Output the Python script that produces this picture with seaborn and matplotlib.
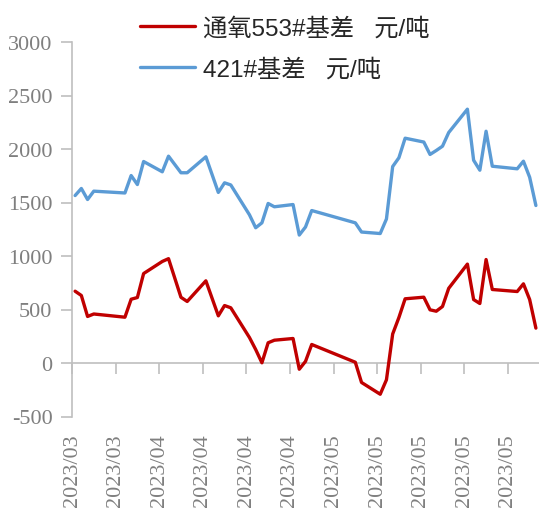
import matplotlib
matplotlib.use("Agg")
import matplotlib.pyplot as plt
import numpy as np
import pandas as pd
import seaborn as sns

# ---- data ----
days = [0, 1, 2, 3, 8, 9, 10, 11, 14, 15, 17, 18, 21, 23, 24, 25, 28, 29, 30,
        31, 32, 35, 36, 37, 38, 45, 46, 49, 50, 51, 52, 53, 56, 57, 58, 59, 60,
        63, 64, 65, 66, 67, 71, 72, 73, 74]
tong553 = [671, 631, 435, 458, 428, 596, 612, 836, 949, 975, 614, 575, 768,
           441, 537, 516, 238, 126, 2, 189, 213, 229, -58, 15, 173, 7, -182,
           -292, -157, 271, 425, 600, 615, 497, 484, 528, 698, 924, 593, 556,
           967, 687, 668, 740, 593, 326]
b421 = [1565, 1631, 1528, 1606, 1589, 1752, 1668, 1883, 1787, 1933, 1778,
        1778, 1927, 1594, 1684, 1664, 1385, 1264, 1310, 1491, 1460, 1481,
        1196, 1271, 1425, 1310, 1224, 1210, 1346, 1836, 1918, 2101, 2065,
        1949, 1986, 2026, 2154, 2372, 1895, 1802, 2166, 1839, 1815, 1886,
        1736, 1472]
series_names = ["通氧553#基差   元/吨", "421#基差   元/吨"]
tick_pos = [-0.5 + 7 * k for k in range(11)]
tick_labels = ["2023/03", "2023/03", "2023/04", "2023/04", "2023/04", "2023/04",
               "2023/05", "2023/05", "2023/05", "2023/05", "2023/05"]
y_ticks = [-500, 0, 500, 1000, 1500, 2000, 2500, 3000]

RED = "#C00000"
BLUE = "#5B9BD5"
GRAY_LINE = "#BFBFBF"
GRAY_TEXT = "#7F7F7F"

sns.set_theme(style="white")
plt.rcParams["font.family"] = ["Liberation Sans", "Noto Sans CJK SC", "DejaVu Sans"]

df = pd.DataFrame({"day": days, series_names[0]: tong553, series_names[1]: b421})
long = df.melt(id_vars="day", var_name="series", value_name="value")

W, H = 539, 510
fig = plt.figure(figsize=(W / 100, H / 100), dpi=100)
ax = fig.add_axes([72 / W, (H - 417.5) / H, 467 / W, (417.5 - 43) / H])

sns.lineplot(data=long, x="day", y="value", hue="series",
             hue_order=series_names, palette=[RED, BLUE],
             linewidth=2.4, ax=ax, legend=True)

handles, labels = ax.get_legend_handles_labels()
ax.get_legend().remove()
fig.legend(handles, labels, loc="upper left",
           bbox_to_anchor=(140 / W, 1 - 18 / H), frameon=False,
           fontsize=17.5, handlelength=2.25, handletextpad=0.35,
           labelspacing=0.75, borderpad=0, borderaxespad=0)

ax.set_xlim(-0.5, 74.5)
ax.set_ylim(-500, 3000)
ax.set_xlabel("")
ax.set_ylabel("")

for s in ["top", "right", "bottom"]:
    ax.spines[s].set_visible(False)
ax.spines["left"].set_color(GRAY_LINE)
ax.spines["left"].set_linewidth(1.2)

ax.set_yticks(y_ticks)
ax.set_yticklabels([str(v) for v in y_ticks], fontfamily="Liberation Serif")
ax.tick_params(axis="y", left=True, direction="out", length=8, width=1.2,
               color=GRAY_LINE, labelcolor=GRAY_TEXT, labelsize=16, pad=6)

ax.set_xticks(tick_pos)
ax.set_xticklabels(tick_labels, rotation=90, fontfamily="Liberation Serif",
                   va="top", ha="center")
ax.tick_params(axis="x", bottom=False, length=0, labelcolor=GRAY_TEXT,
               labelsize=16, pad=12)

# zero line with tick marks (category axis crossing at 0)
zero_frac = (0 - (-500)) / (3000 - (-500))
sec = ax.secondary_xaxis(zero_frac)
sec.set_xticks(tick_pos)
sec.set_xticklabels([])
sec.tick_params(direction="out", length=8, width=1.2, color=GRAY_LINE)
for s in sec.spines.values():
    s.set_color(GRAY_LINE)
    s.set_linewidth(1.2)

fig.savefig("out.png", dpi=100)
